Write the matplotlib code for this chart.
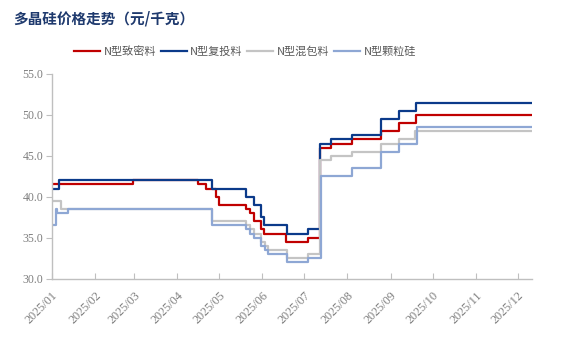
import pandas as pd
import matplotlib
matplotlib.use("Agg")
import matplotlib.pyplot as plt

plt.rcParams['font.family'] = ['Noto Sans CJK SC', 'DejaVu Sans']

# price change points (yuan/kg); each value holds until the next date
dense_dates = ["2025-01-01", "2025-02-28", "2025-04-16", "2025-04-22", "2025-04-29", "2025-05-01",
               "2025-05-20", "2025-05-23", "2025-05-26", "2025-05-31", "2025-06-02", "2025-06-18",
               "2025-07-04", "2025-07-12", "2025-07-20", "2025-08-04", "2025-08-25", "2025-09-07",
               "2025-09-19", "2025-12-11"]
dense_vals = [41.5, 42.0, 41.5, 41.0, 40.0, 39.0,
              38.5, 38.0, 37.0, 36.0, 35.5, 34.5,
              35.0, 46.0, 46.5, 47.0, 48.0, 49.0,
              50.0, 50.0]

recharge_dates = ["2025-01-01", "2025-01-06", "2025-04-26", "2025-05-20", "2025-05-26", "2025-05-31",
                  "2025-06-02", "2025-06-19", "2025-07-04", "2025-07-12", "2025-07-20", "2025-08-04",
                  "2025-08-25", "2025-09-07", "2025-09-19", "2025-12-11"]
recharge_vals = [41.0, 42.0, 41.0, 40.0, 39.0, 37.5,
                 36.5, 35.5, 36.0, 46.5, 47.0, 47.5,
                 49.5, 50.5, 51.5, 51.5]

mixed_dates = ["2025-01-01", "2025-01-08", "2025-04-26", "2025-05-20", "2025-05-23", "2025-05-26",
               "2025-05-31", "2025-06-03", "2025-06-05", "2025-06-19", "2025-07-04", "2025-07-12",
               "2025-07-20", "2025-08-04", "2025-08-25", "2025-09-07", "2025-09-18", "2025-12-11"]
mixed_vals = [39.5, 38.5, 37.0, 36.5, 36.0, 35.5,
              34.5, 34.0, 33.5, 32.5, 33.0, 44.5,
              45.0, 45.5, 46.5, 47.0, 48.0, 48.0]

granular_dates = ["2025-01-01", "2025-01-04", "2025-01-05", "2025-01-13", "2025-04-26", "2025-05-20",
                  "2025-05-23", "2025-05-26", "2025-05-31", "2025-06-03", "2025-06-05", "2025-06-19",
                  "2025-07-04", "2025-07-13", "2025-08-04", "2025-08-25", "2025-09-07", "2025-09-20",
                  "2025-12-11"]
granular_vals = [36.5, 38.5, 38.0, 38.5, 36.5, 36.0,
                 35.5, 35.0, 34.0, 33.5, 33.0, 32.0,
                 32.5, 42.5, 43.5, 45.5, 46.5, 48.5,
                 48.5]

series = [
    ("N型致密料", dense_dates, dense_vals, "#C00000"),
    ("N型复投料", recharge_dates, recharge_vals, "#0B3A8A"),
    ("N型混包料", mixed_dates, mixed_vals, "#C4C4C4"),
    ("N型颗粒硅", granular_dates, granular_vals, "#8EA7D4"),
]

month_ticks = pd.date_range("2025-01-01", "2025-12-01", freq="MS")
tick_labels = [d.strftime("%Y/%m") for d in month_ticks]

fig = plt.figure(figsize=(5.65, 3.41), dpi=100)
ax = fig.add_axes([0.0912, 0.183, 0.850, 0.600])

for name, dates, vals, color in series:
    ax.plot(pd.to_datetime(dates), vals, drawstyle="steps-post", color=color, lw=1.6, label=name)

ax.set_xlim(pd.Timestamp("2025-01-01"), pd.Timestamp("2025-12-11"))
ax.set_ylim(30, 55)
ax.set_yticks([30, 35, 40, 45, 50, 55])
ax.set_yticklabels([f"{v:.1f}" for v in [30, 35, 40, 45, 50, 55]],
                   family="Liberation Serif", fontsize=8.5, color="#7F7F7F")
ax.set_xticks(month_ticks)
ax.set_xticklabels(tick_labels, family="Liberation Serif", fontsize=8.8, color="#7F7F7F",
                   rotation=45, ha="right", va="top", rotation_mode="anchor")

for side in ["top", "right"]:
    ax.spines[side].set_visible(False)
for side in ["left", "bottom"]:
    ax.spines[side].set_color("#BFBFBF")
    ax.spines[side].set_linewidth(1.0)
ax.tick_params(axis="y", direction="out", length=4, color="#BFBFBF", pad=2)
ax.tick_params(axis="x", direction="in", length=4, color="#BFBFBF", pad=8)

fig.text(0.024, 0.945, "多晶硅价格走势（元/千克）", fontsize=10.5, fontweight="bold",
         color="#1F3A6E", va="center", ha="left")

fig.legend(loc="center left", bbox_to_anchor=(0.113, 0.850), ncol=4, frameon=False,
           fontsize=8, handlelength=2.35, handletextpad=0.33, columnspacing=0.4,
           labelcolor="#595959")

fig.savefig("out.png", dpi=100)
